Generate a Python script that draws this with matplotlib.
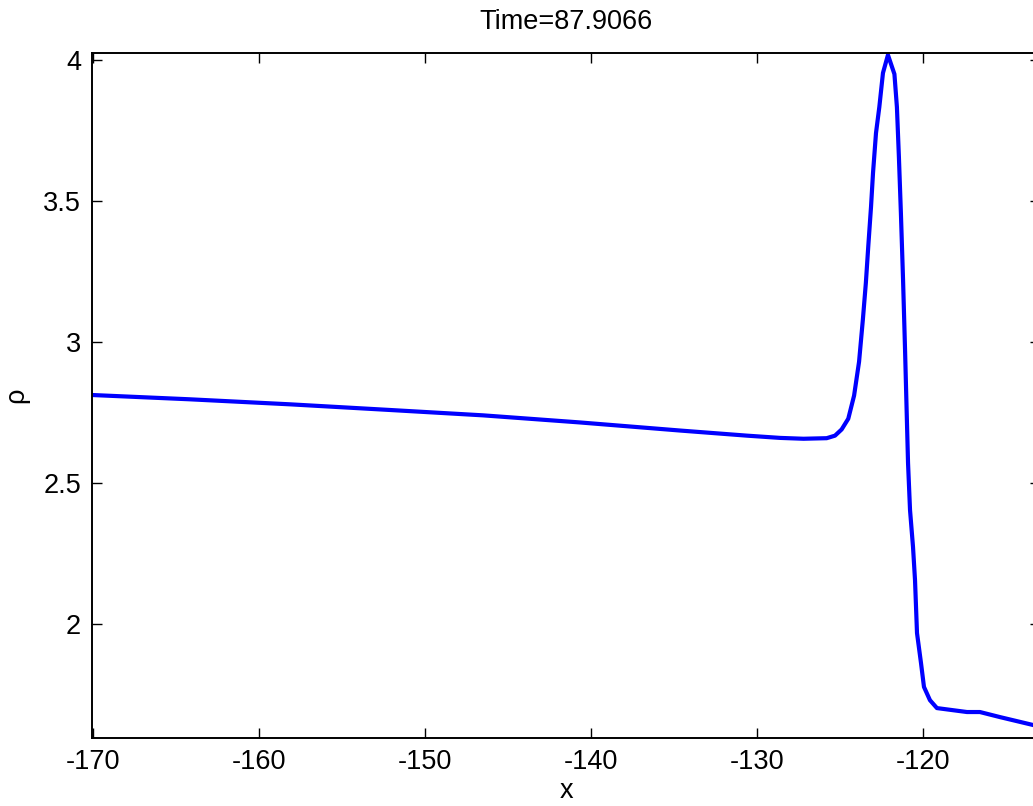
import matplotlib
matplotlib.use("Agg")
import matplotlib.pyplot as plt

plt.rcParams['font.family'] = ['Liberation Sans', 'DejaVu Sans']
plt.rcParams['axes.unicode_minus'] = False

# density profile rho(x)
x = [-170.0, -164.2, -158.1, -152.1, -146.5, -140.7, -134.6, -130.6, -128.6,
     -127.2, -125.8, -125.3, -124.9, -124.5, -124.15, -123.85, -123.62,
     -123.44, -123.29, -123.13, -123.01, -122.83, -122.63, -122.41, -122.11,
     -121.72, -121.57, -121.45, -121.33, -121.2, -121.08, -120.98, -120.9,
     -120.78, -120.6, -120.48, -120.36, -120.12, -119.94, -119.58, -119.16,
     -117.35, -116.57, -115.36, -113.37]
rho = [2.812, 2.797, 2.779, 2.759, 2.740, 2.715, 2.686, 2.668, 2.660,
       2.657, 2.659, 2.668, 2.690, 2.728, 2.810, 2.930, 3.080,
       3.210, 3.344, 3.479, 3.599, 3.741, 3.833, 3.954, 4.018,
       3.950, 3.833, 3.656, 3.457, 3.220, 2.972, 2.748, 2.571,
       2.404, 2.273, 2.156, 1.968, 1.862, 1.777, 1.730, 1.702,
       1.688, 1.688, 1.670, 1.642]

xticks = [-170, -160, -150, -140, -130, -120]
yticks = [2, 2.5, 3, 3.5, 4]

fig = plt.figure(figsize=(10.33, 8.06), dpi=100)
ax = fig.add_axes([0.0891, 0.0844, 0.9177, 0.8499])

ax.plot(x, rho, color='#0000ff', linewidth=3.0)

ax.set_xlim(-170.05, -112.95)
ax.set_ylim(1.596, 4.025)
ax.set_xticks(xticks)
ax.set_yticks(yticks)
ax.set_yticklabels(['2', '2.5', '3', '3.5', '4'])

ax.tick_params(direction='in', length=7, width=1, labelsize=19.5,
               top=True, right=True, pad=8)
for s in ax.spines.values():
    s.set_linewidth(1.4)

ax.set_title('Time=87.9066', fontsize=19.5, pad=17)
ax.set_xlabel('x', fontsize=19.5, labelpad=2)
ax.set_ylabel('ρ', fontsize=19.5, labelpad=10)

fig.savefig('out.png', dpi=100)
